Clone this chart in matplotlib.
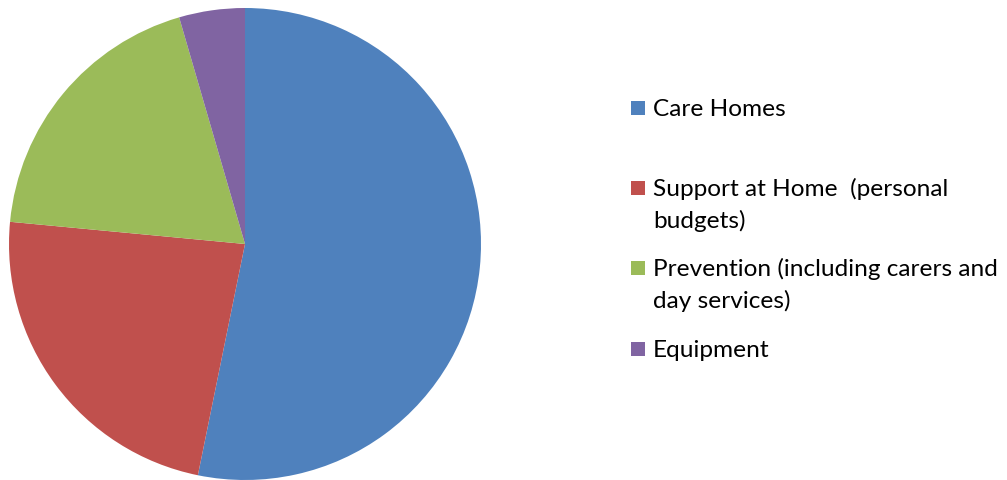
import matplotlib
matplotlib.use('Agg')
import matplotlib.pyplot as plt
from matplotlib.patches import Rectangle

# spending split
labels = ['Care Homes',
          'Support at Home  (personal\nbudgets)',
          'Prevention (including carers and\nday services)',
          'Equipment']
shares = [53.2, 23.3, 19.0, 4.5]
colors = ['#4F81BD', '#C0504D', '#9BBB59', '#8064A2']

W, H = 1007, 480
fig = plt.figure(figsize=(W / 100, H / 100), dpi=100)

# pie: centre (245, 244) px, radius 236 px
cx, cy, r = 245, 244, 236
ax = fig.add_axes([(cx - r) / W, (H - cy - r) / H, 2 * r / W, 2 * r / H])
ax.pie(shares, colors=colors, startangle=90, counterclock=False,
       wedgeprops=dict(linewidth=0))
ax.set_xlim(-1, 1)
ax.set_ylim(-1, 1)
ax.set_aspect('equal')
ax.axis('off')

# legend drawn by hand so the uneven spacing can be kept
baselines = [116, 196, 276, 357]
line_gap = 31.5
box_x, box = 631, 14
text_x = 653
for lab, col, base in zip(labels, colors, baselines):
    fig.patches.append(Rectangle(((box_x) / W, (H - base + 1) / H), box / W, box / H,
                                 transform=fig.transFigure, facecolor=col,
                                 edgecolor='none'))
    for k, line in enumerate(lab.split('\n')):
        fig.text(text_x / W, (H - base - k * line_gap) / H, line,
                 fontsize=17.6, family='Lato', color='black',
                 ha='left', va='baseline')

fig.savefig('out.png', dpi=100)
